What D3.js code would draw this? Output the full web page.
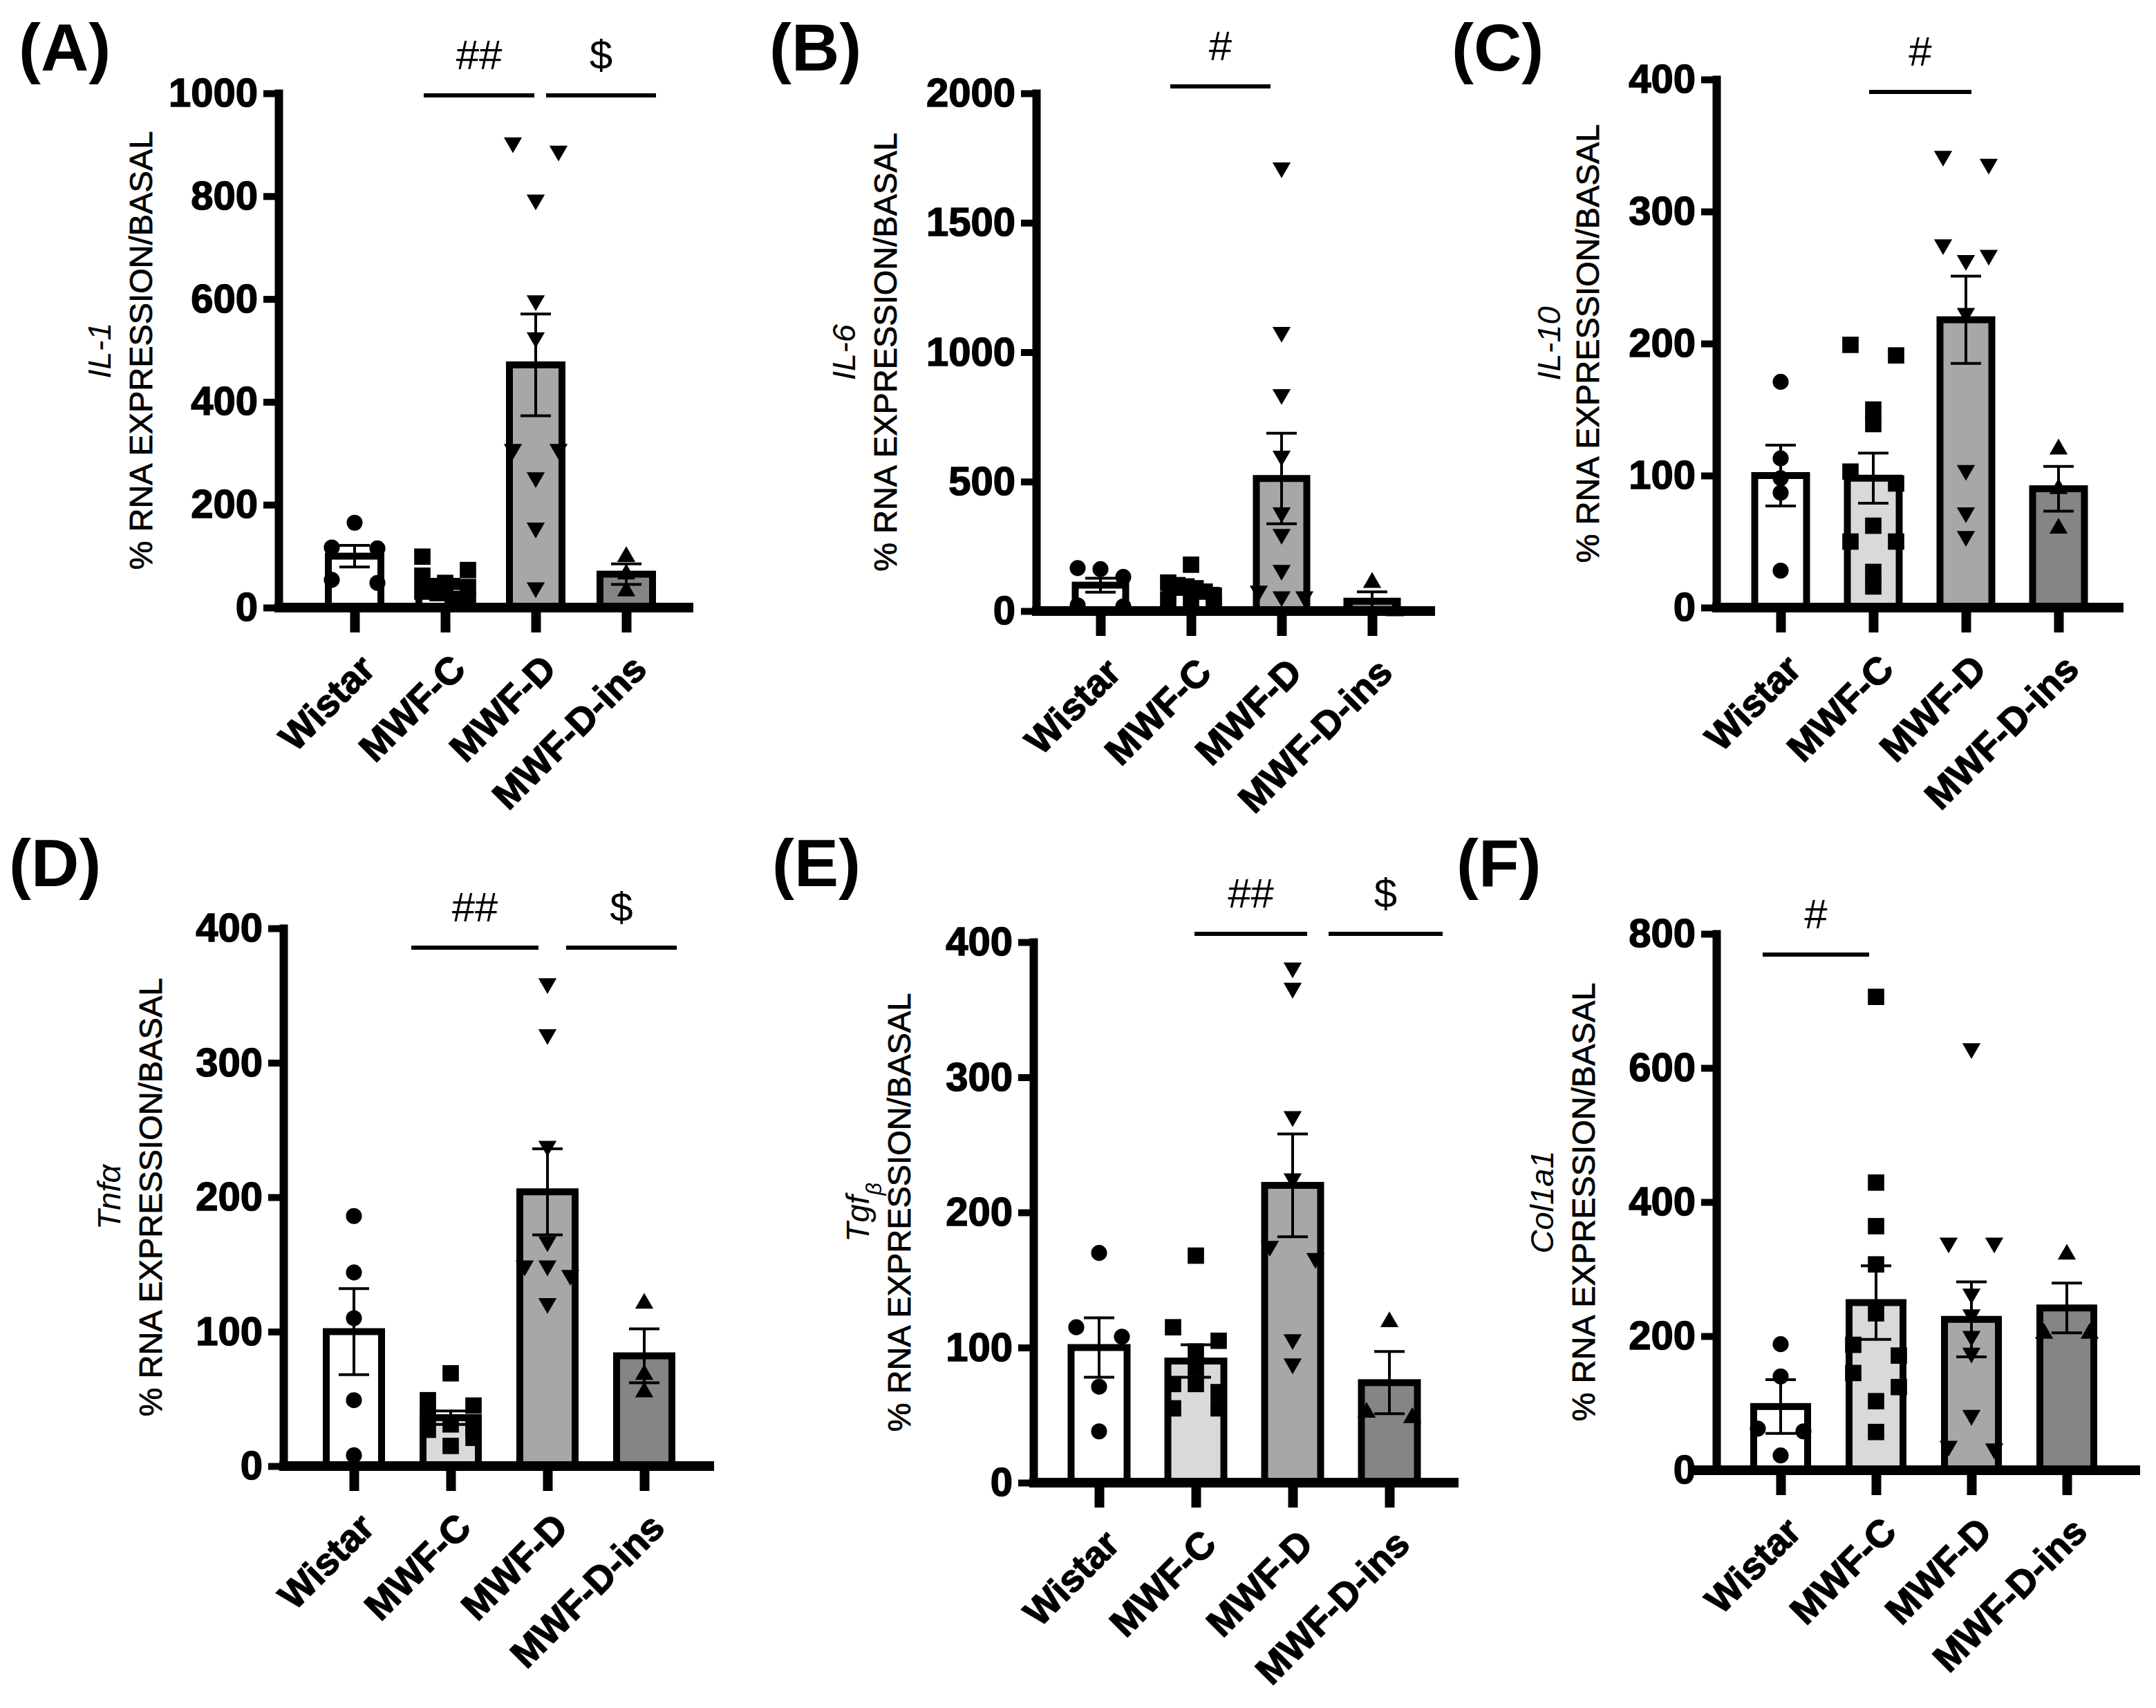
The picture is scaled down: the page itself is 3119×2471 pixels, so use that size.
<!DOCTYPE html>
<html>
<head>
<meta charset="utf-8">
<script src="https://cdn.jsdelivr.net/npm/d3@7"></script>
<style>
  body { margin: 0; background: #fff; }
  svg { font-family: "Liberation Sans", Arial, sans-serif; display: block; }
</style>
</head>
<body>
<svg id="fig" width="3119" height="2471"></svg>
<script>
// groups on the x axis of every panel
const groups = ["Wistar", "MWF-C", "MWF-D", "MWF-D-ins"];

// (A) IL-1
const il1Ticks = [0, 200, 400, 600, 800, 1000];
const il1Mean = [100, 46, 472, 65];
const il1Sem = [21, 9, 99, 20];
const il1Pts = [
  [165, 117, 115, 54, 48],
  [99, 73, 62, 48, 40, 31, 28, 17, 15],
  [904, 888, 793, 597, 525, 308, 308, 253, 155, 39],
  [99, 65, 32]
];
const il1Sig = [["MWF-C", "MWF-D", "##"], ["MWF-D", "MWF-D-ins", "$"]];

// (B) IL-6
const il6Ticks = [0, 500, 1000, 1500, 2000];
const il6Mean = [100, 80, 512, 38];
const il6Sem = [27, 16, 175, 36];
const il6Pts = [
  [166, 162, 132, 22, 18],
  [179, 110, 100, 95, 88, 75, 60, 45, 30, 18],
  [1713, 1077, 837, 599, 380, 297, 158, 78, 56, 56],
  [110, 4, 0]
];
const il6Sig = [["MWF-C", "MWF-D", "#"]];

// (C) IL-10
const il10Ticks = [0, 100, 200, 300, 400];
const il10Mean = [100, 98, 218, 90];
const il10Sem = [23, 19, 33, 17];
const il10Pts = [
  [171, 113, 98, 87, 28],
  [199, 191, 150, 139, 103, 94, 62, 50, 50, 27, 16],
  [342, 336, 275, 267, 263, 223, 104, 72, 54],
  [120, 90, 60]
];
const il10Sig = [["MWF-C", "MWF-D", "#"]];

// (D) Tnfa
const tnfTicks = [0, 100, 200, 300, 400];
const tnfMean = [100, 36, 204, 82];
const tnfSem = [32, 5, 32, 20];
const tnfPts = [
  [186, 144, 110, 49, 8],
  [69, 49, 45, 38, 31, 29, 27, 21, 15],
  [359, 321, 238, 167, 149, 149, 142, 121],
  [121, 68, 55]
];
const tnfSig = [["MWF-C", "MWF-D", "##"], ["MWF-D", "MWF-D-ins", "$"]];

// (E) Tgf-beta
const tgfTicks = [0, 100, 200, 300, 400];
const tgfMean = [100, 90, 220, 74];
const tgfSem = [22, 12, 38, 23];
const tgfPts = [
  [170, 115, 108, 71, 38],
  [168, 115, 105, 97, 85, 73, 73, 67, 55, 55],
  [381, 366, 271, 225, 175, 166, 106, 88],
  [119, 52, 48]
];
const tgfSig = [["MWF-C", "MWF-D", "##"], ["MWF-D", "MWF-D-ins", "$"]];

// (F) Col1a1
const colTicks = [0, 200, 400, 600, 800];
const colMean = [95, 250, 225, 242];
const colSem = [40, 55, 56, 37];
const colPts = [
  [188, 140, 62, 58, 22],
  [706, 429, 364, 307, 234, 187, 171, 145, 124, 103, 57],
  [629, 339, 339, 263, 232, 200, 175, 82, 36, 32],
  [322, 204, 204]
];
const colSig = [["Wistar", "MWF-C", "#"]];

const fills = ["#ffffff", "#d9d9d9", "#a7a7aa", "#858585"];
const shapes = [d3.symbolCircle, d3.symbolSquare, d3.symbolTriangle, d3.symbolTriangle];
const shapeSize = [420, 560, 300, 300];

// layout of each panel (pixels)
const panels = [
  {letter: "(A)", lx: 27, ly: 102, gene: [["IL-1"]], mean: il1Mean, sem: il1Sem, pts: il1Pts, ticks: il1Ticks, sig: il1Sig,
   ax: 403, top: 135, zero: 879, c0: 513, step: 131, xEnd: 1003, barW: 76, gx: 143, tx: 203,
   sigY: 138, sigOff: [[-31, -2], [15, 43]], cFill: "#ffffff"},
  {letter: "(B)", lx: 1113, ly: 102, gene: [["IL-6"]], mean: il6Mean, sem: il6Sem, pts: il6Pts, ticks: il6Ticks, sig: il6Sig,
   ax: 1499, top: 135, zero: 884, c0: 1592, step: 131, xEnd: 2076, barW: 73, gx: 1220, tx: 1280,
   sigY: 125, sigOff: [[-30, -16]], cFill: "#ffffff"},
  {letter: "(C)", lx: 2100, ly: 102, gene: [["IL-10"]], mean: il10Mean, sem: il10Sem, pts: il10Pts, ticks: il10Ticks, sig: il10Sig,
   ax: 2483, top: 115, zero: 879, c0: 2576, step: 134, xEnd: 3072, barW: 75, gx: 2240, tx: 2296,
   sigY: 133, sigOff: [[-6, 8]]},
  {letter: "(D)", lx: 13, ly: 1282, gene: [["Tnfα"]], mean: tnfMean, sem: tnfSem, pts: tnfPts, ticks: tnfTicks, sig: tnfSig,
   ax: 410, top: 1343, zero: 2121, c0: 512, step: 140, xEnd: 1033, barW: 80, gx: 157, tx: 217,
   sigY: 1371, sigOff: [[-57, -13], [27, 47]]},
  {letter: "(E)", lx: 1117, ly: 1282, gene: [["Tgf"], ["β", "sub"]], mean: tgfMean, sem: tgfSem, pts: tgfPts, ticks: tgfTicks, sig: tgfSig,
   ax: 1495, top: 1363, zero: 2145, c0: 1590, step: 140, xEnd: 2110, barW: 81, gx: 1240, tx: 1300,
   sigY: 1351, sigOff: [[-2, 21], [52, 77]]},
  {letter: "(F)", lx: 2107, ly: 1282, gene: [["Col1a1"]], mean: colMean, sem: colSem, pts: colPts, ticks: colTicks, sig: colSig,
   ax: 2483, top: 1351, zero: 2127, c0: 2576, step: 138, xEnd: 3096, barW: 78, gx: 2230, tx: 2290,
   sigY: 1381, sigOff: [[-26, -10]], leftStub: 40}
];

// spread points that would overlap, GraphPad style
function spread(vals, y, half) {
  let order = vals.map((v, i) => i).sort((a, b) => vals[b] - vals[a]);
  let offs = Array(vals.length).fill(0);
  let i = 0;
  while (i < order.length) {
    let j = i + 1;
    while (j < order.length && Math.abs(y(vals[order[i]]) - y(vals[order[j]])) < 21) j++;
    let n = j - i;
    for (let k = 0; k < n; k++) {
      offs[order[i + k]] = n == 1 ? 0 : -half + k * (2 * half / (n - 1));
    }
    i = j;
  }
  return offs;
}

const svg = d3.select("#fig");

panels.forEach(p => {
  let g = svg.append("g");
  let y = d3.scaleLinear()
    .domain([0, d3.max(p.ticks)])
    .range([p.zero, p.top]);
  let x = d3.scalePoint()
    .domain(groups)
    .range([p.c0, p.c0 + 3 * p.step]);

  // panel letter
  g.append("text")
    .attr("x", p.lx).attr("y", p.ly)
    .attr("font-size", 96).attr("font-weight", "bold")
    .text(p.letter);

  // y axis title, two lines
  let mid = (p.top + p.zero) / 2;
  let gt = g.append("text")
    .attr("transform", "translate(" + (p.gx + 17) + "," + mid + ") rotate(-90)")
    .attr("text-anchor", "middle")
    .attr("font-size", 47).attr("font-style", "italic");
  p.gene.forEach(s => {
    let t = gt.append("tspan").text(s[0]);
    if (s[1] == "sub") t.attr("font-size", 32).attr("baseline-shift", "sub");
  });
  g.append("text")
    .attr("transform", "translate(" + (p.tx + 17) + "," + mid + ") rotate(-90)")
    .attr("text-anchor", "middle")
    .attr("font-size", 47)
    .attr("stroke", "#000").attr("stroke-width", 0.8)
    .text("% RNA EXPRESSION/BASAL");

  // bars
  g.selectAll(".bar")
    .data(p.mean)
    .enter().append("rect")
      .attr("x", (d, i) => x(groups[i]) - p.barW / 2)
      .attr("y", d => y(d))
      .attr("width", p.barW)
      .attr("height", d => p.zero - y(d))
      .attr("fill", (d, i) => (i == 1 && p.cFill) ? p.cFill : fills[i])
      .attr("stroke", "#000")
      .attr("stroke-width", 10);

  // individual points
  p.pts.forEach((vals, i) => {
    let offs = spread(vals, y, 33);
    let sym = d3.symbol().type(shapes[i]).size(shapeSize[i]);
    g.append("g").selectAll("path")
      .data(vals)
      .enter().append("path")
        .attr("d", sym)
        .attr("transform", (d, k) => "translate(" + (x(groups[i]) + offs[k]) + "," + y(d) + ")" + (i == 2 ? " rotate(180)" : ""))
        .attr("fill", "#000");
  });

  // error bars (mean +/- SEM)
  p.mean.forEach((m, i) => {
    let cx = x(groups[i]);
    let lo = y(Math.max(0, m - p.sem[i])), hi = y(m + p.sem[i]);
    let eb = g.append("g").attr("stroke", "#000").attr("stroke-width", 4);
    eb.append("line").attr("x1", cx).attr("x2", cx).attr("y1", lo).attr("y2", hi);
    eb.append("line").attr("x1", cx - 22).attr("x2", cx + 22).attr("y1", hi).attr("y2", hi);
    eb.append("line").attr("x1", cx - 22).attr("x2", cx + 22).attr("y1", lo).attr("y2", lo);
  });

  // x axis baseline and ticks
  g.append("line")
    .attr("x1", p.ax - (p.leftStub || 6)).attr("x2", p.xEnd)
    .attr("y1", p.zero).attr("y2", p.zero)
    .attr("stroke", "#000").attr("stroke-width", 14);
  let xa = g.append("g")
    .attr("transform", "translate(0," + p.zero + ")")
    .call(d3.axisBottom(x).tickSize(36).tickSizeOuter(0));
  xa.select(".domain").remove();
  xa.selectAll(".tick line").attr("stroke-width", 14);
  xa.selectAll(".tick text")
    .attr("x", 0).attr("y", 0).attr("dy", 0)
    .attr("text-anchor", "end")
    .attr("transform", "translate(32,92) rotate(-45)")
    .attr("font-size", 55).attr("font-weight", "bold")
    .attr("font-family", "Liberation Sans, Arial, sans-serif")
    .attr("fill", "#000")
    .attr("stroke", "#000").attr("stroke-width", 1.5);

  // y axis
  let ya = g.append("g")
    .attr("transform", "translate(" + p.ax + ",0)")
    .call(d3.axisLeft(y).tickValues(p.ticks).tickFormat(d3.format("d"))
      .tickSize(22).tickSizeOuter(0).tickPadding(8));
  ya.select(".domain")
    .attr("stroke-width", 12).attr("stroke-linecap", "square");
  ya.selectAll(".tick line").attr("stroke-width", 10);
  ya.selectAll(".tick text")
    .attr("font-size", 58).attr("font-weight", "bold")
    .attr("font-family", "Liberation Sans, Arial, sans-serif")
    .attr("fill", "#000")
    .attr("stroke", "#000").attr("stroke-width", 1.5);

  // significance bars
  p.sig.forEach((s, k) => {
    let x1 = x(s[0]) + p.sigOff[k][0], x2 = x(s[1]) + p.sigOff[k][1];
    g.append("line")
      .attr("x1", x1).attr("x2", x2)
      .attr("y1", p.sigY).attr("y2", p.sigY)
      .attr("stroke", "#000").attr("stroke-width", 6);
    g.append("text")
      .attr("x", (x1 + x2) / 2).attr("y", p.sigY - 38)
      .attr("text-anchor", "middle")
      .attr("font-size", 60)
      .text(s[2]);
  });
});
</script>
</body>
</html>
